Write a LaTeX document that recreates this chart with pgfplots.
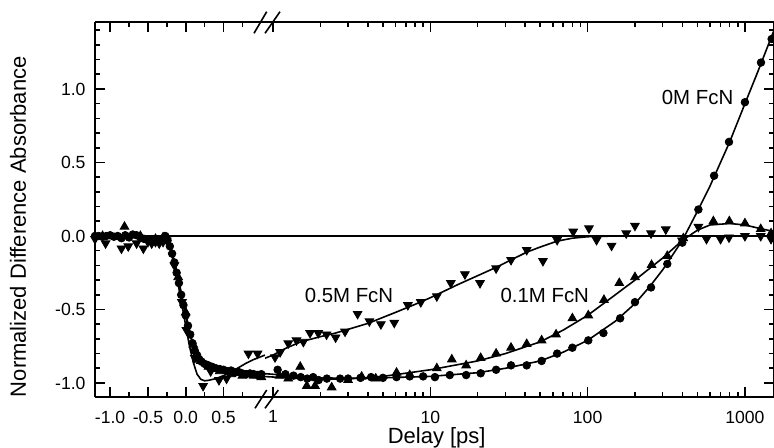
\documentclass[border=0pt]{standalone}
\usepackage{pgfplots}
\pgfplotsset{compat=1.18}
\usepackage{fontspec}
\setmainfont{Liberation Sans}
\begin{document}
\begin{tikzpicture}
\useasboundingbox (-47.5pt,-25.65pt) rectangle (339.5pt,198.35pt);
\pgfplotsset{
  every axis/.append style={
    scale only axis, height=187.5pt,
    ymin=-1.0932, ymax=1.4578,
    tick align=inside,
    major tick length=5pt, minor tick length=2.5pt,
    axis line style={line width=1pt},
    every tick/.style={black, line width=0.8pt},
    tick label style={font=\fontsize{8.8}{10}\selectfont},
    ytick={-1,-0.5,0,0.5,1}, minor ytick={-1.1,-0.9,-0.8,-0.7,-0.6,-0.4,-0.3,-0.2,-0.1,0.1,0.2,0.3,0.4,0.6,0.7,0.8,0.9,1.1,1.2,1.3,1.4},
    xticklabel style={yshift=-3.5pt},
    yticklabel style={xshift=-1.2pt},
  },
  fitline/.style={black, line width=0.8pt, no marks},
  circ/.style={only marks, mark=*, mark size=1.9pt, black},
  tup/.style={only marks, mark=triangle*, mark size=2.5pt, black},
  tdn/.style={only marks, mark=triangle*, mark size=2.5pt, black, mark options={rotate=180}},
}
% ---------- linear part ----------
\begin{axis}[
  at={(0pt,0pt)}, anchor=south west, width=85pt,
  xmin=-1.2, xmax=1.0487,
  axis x line*=box, axis y line*=left,
  xtick={-1,-0.5,0,0.5}, xticklabels={-1.0,-0.5,0.0,0.5},
  minor xtick={-0.75,-0.25,0.25,0.75},
  yticklabels={-1.0,-0.5,0.0,0.5,1.0},
]
\addplot[fitline] coordinates {(-1.2,0) (1.0487,0)};
% 0M fit
\addplot[fitline] coordinates {(-1.2,0)(-0.28,0)(-0.26,-0.01)(-0.22,-0.06)(-0.18,-0.12)(-0.145,-0.2)(-0.1,-0.3)(-0.057,-0.40)(0.0,-0.54)(0.05,-0.66)(0.1,-0.75)(0.15,-0.81)(0.2,-0.845)(0.25,-0.865)(0.3,-0.88)(0.4,-0.895)(0.5,-0.905)(0.6,-0.915)(0.7,-0.925)(0.8,-0.93)(0.9,-0.935)(1.05,-0.94)};
% 0.1M fit
\addplot[fitline] coordinates {(-1.2,0)(-0.28,0)(-0.25,-0.02)(-0.2,-0.08)(-0.15,-0.17)(-0.1,-0.28)(-0.05,-0.41)(0,-0.53)(0.05,-0.645)(0.1,-0.74)(0.15,-0.81)(0.2,-0.85)(0.25,-0.875)(0.3,-0.89)(0.4,-0.91)(0.5,-0.925)(0.6,-0.935)(0.7,-0.945)(0.8,-0.95)(0.9,-0.952)(1.05,-0.955)};
% 0.5M fit
\addplot[fitline] coordinates {(-1.2,0)(-0.28,0)(-0.26,-0.01)(-0.2,-0.1)(-0.15,-0.2)(-0.1,-0.33)(-0.05,-0.47)(0.0,-0.61)(0.05,-0.75)(0.1,-0.86)(0.15,-0.94)(0.2,-0.975)(0.25,-0.985)(0.3,-0.982)(0.4,-0.97)(0.5,-0.95)(0.6,-0.925)(0.7,-0.895)(0.8,-0.865)(0.9,-0.84)(1.05,-0.81)};
% 0M data
\addplot[circ] coordinates {(-1.2,0)(-1.15,0.0)(-1.1,-0.005)(-1.05,0.0)(-1.0,0.005)(-0.95,-0.005)(-0.9,0.0)(-0.85,-0.015)(-0.8,0.005)(-0.75,-0.01)(-0.7,0.01)(-0.65,0.005)(-0.6,-0.01)(-0.55,-0.02)(-0.5,-0.025)(-0.45,-0.03)(-0.4,-0.035)(-0.35,-0.03)(-0.3,-0.02)(-0.27,0.0)(-0.24,-0.03)(-0.21,-0.07)(-0.18,-0.12)(-0.15,-0.18)(-0.12,-0.25)(-0.09,-0.32)(-0.06,-0.40)(-0.03,-0.47)(0.0,-0.54)(0.03,-0.61)(0.06,-0.67)(0.09,-0.73)(0.12,-0.78)(0.15,-0.81)(0.18,-0.84)(0.21,-0.855)(0.25,-0.87)(0.3,-0.88)(0.35,-0.89)(0.4,-0.9)(0.45,-0.905)(0.5,-0.91)(0.55,-0.92)(0.6,-0.915)(0.65,-0.93)(0.7,-0.925)(0.75,-0.935)(0.8,-0.94)(0.85,-0.935)(0.9,-0.94)(0.95,-0.945)(1.0,-0.94)};
% 0.1M data
\addplot[tup] coordinates {(-1.1,0.0)(-0.81,0.063)(-0.6,0.0)(-0.4,-0.02)(-0.3,-0.01)(-0.1,-0.28)(0.0,-0.52)(0.1,-0.74)(0.2,-0.85)(0.3,-0.89)(0.45,-0.92)(0.6,-0.94)(0.75,-0.95)(0.9,-0.95)(1.0,-0.96)};
% 0.5M data
\addplot[tdn] coordinates {(-1.2,-0.02)(-1.06,-0.05)(-0.85,-0.085)(-0.76,-0.07)(-0.65,-0.05)(-0.56,-0.085)(-0.5,-0.04)(-0.45,-0.05)(-0.4,-0.04)(-0.35,-0.05)(-0.3,-0.04)(-0.25,-0.03)(-0.15,-0.2)(-0.05,-0.45)(0.01,-0.64)(0.12,-0.83)(0.23,-1.02)(0.33,-0.92)(0.44,-0.98)(0.54,-0.97)(0.65,-0.92)(0.83,-0.80)(0.95,-0.80)};
\end{axis}
% ---------- log part ----------
\begin{axis}[
  at={(85pt,0pt)}, anchor=south west, width=254.5pt,
  xmode=log, xmin=0.8895, xmax=1531,
  axis x line*=box, axis y line*=right,
  xtick={1,10,100,1000}, xticklabels={1,10,100,1000},
  minor xtick={2,3,4,5,6,7,8,9,20,30,40,50,60,70,80,90,200,300,400,500,600,700,800,900},
  yticklabels={},
]
\addplot[fitline] coordinates {(0.8895,0) (1531,0)};
% 0M fit
\addplot[fitline] coordinates {(0.85,-0.935)(1.5,-0.955)(2,-0.965)(3,-0.968)(5,-0.965)(10,-0.955)(20,-0.93)(30,-0.90)(50,-0.85)(70,-0.79)(100,-0.71)(150,-0.58)(200,-0.46)(250,-0.34)(300,-0.23)(400,-0.03)(500,0.17)(600,0.34)(800,0.64)(1000,0.90)(1200,1.11)(1531,1.40)};
% 0.1M fit
\addplot[fitline] coordinates {(0.85,-0.955)(1.5,-0.97)(2,-0.975)(3,-0.972)(5,-0.955)(10,-0.91)(20,-0.85)(30,-0.80)(50,-0.72)(70,-0.64)(100,-0.54)(150,-0.40)(200,-0.30)(300,-0.15)(400,-0.03)(500,0.04)(600,0.075)(800,0.085)(1000,0.075)(1200,0.055)(1531,0.03)};
% 0.5M fit
\addplot[fitline] coordinates {(0.85,-0.84)(1.0,-0.81)(1.2,-0.765)(1.5,-0.72)(2,-0.685)(2.5,-0.66)(3,-0.635)(4,-0.595)(6,-0.52)(8,-0.465)(10,-0.42)(15,-0.33)(20,-0.27)(26,-0.215)(33,-0.16)(41,-0.11)(50,-0.075)(64,-0.035)(80,-0.015)(100,-0.005)(150,0)(1531,0)};
% 0M data
\addplot[circ] coordinates {(1.07,-0.91)(1.2,-0.94)(1.35,-0.95)(1.5,-0.96)(1.65,-0.97)(1.8,-0.96)(1.95,-0.98)(2.2,-0.97)(2.67,-0.97)(3.0,-0.97)(3.6,-0.965)(4.2,-0.96)(5.0,-0.965)(6.1,-0.96)(7.4,-0.955)(9.0,-0.955)(10.7,-0.96)(13.3,-0.946)(16.9,-0.946)(20.9,-0.934)(26.2,-0.91)(32.6,-0.88)(41,-0.88)(51,-0.85)(64,-0.80)(80,-0.76)(101,-0.71)(126,-0.66)(161,-0.56)(200,-0.45)(253,-0.35)(321,-0.19)(400,-0.045)(506,0.18)(637,0.41)(792,0.64)(1000,0.91)(1265,1.18)(1479,1.34)};
% 0.1M data
\addplot[tup] coordinates {(1.1,-0.95)(1.25,-0.97)(1.49,-0.89)(1.64,-1.02)(1.85,-1.02)(2.36,-1.03)(3.0,-0.98)(3.66,-0.957)(4.5,-0.97)(6.1,-0.93)(7.4,-0.946)(11,-0.90)(13.7,-0.84)(16.9,-0.88)(20.9,-0.83)(26.2,-0.80)(32.6,-0.76)(41,-0.735)(51,-0.71)(63,-0.67)(80,-0.56)(101,-0.54)(127,-0.435)(159,-0.32)(200,-0.28)(255,-0.197)(321,-0.136)(406,-0.016)(630,0.10)(796,0.10)(1000,0.086)(1260,0.047)(1466,0.018)};
% 0.5M data
\addplot[tdn] coordinates {(1.03,-0.825)(1.11,-0.79)(1.25,-0.73)(1.41,-0.71)(1.56,-0.72)(1.72,-0.66)(1.94,-0.66)(2.19,-0.67)(2.5,-0.69)(2.87,-0.65)(3.45,-0.53)(4.1,-0.58)(4.85,-0.60)(5.9,-0.59)(7.2,-0.47)(8.7,-0.45)(11,-0.41)(13.5,-0.32)(16.6,-0.26)(20.7,-0.32)(26.2,-0.22)(32.6,-0.163)(41,-0.095)(52,-0.17)(64,-0.027)(81,0.03)(102,0.052)(114,-0.027)(142,-0.066)(176,0.018)(200,0.07)(253,0.018)(314,0.045)(398,-0.03)(506,0.063)(570,-0.02)(700,-0.02)(792,-0.01)(1000,0.0)(1260,0.0)(1466,-0.02)};
\node[font=\fontsize{10.2}{12}\selectfont] at (axis cs:500,0.942) {0M FcN};
\node[font=\fontsize{10.2}{12}\selectfont] at (axis cs:3.04,-0.407) {0.5M FcN};
\node[font=\fontsize{10.2}{12}\selectfont] at (axis cs:53.4,-0.407) {0.1M FcN};
\end{axis}
% axis break marks
\draw[line width=0.8pt] (79.5pt,181.7pt) -- (85.85pt,192.5pt);
\draw[line width=0.8pt] (85pt,181.7pt) -- (92.5pt,192.5pt);
\draw[line width=0.8pt] (80pt,-5.8pt) -- (85.85pt,3.35pt);
\draw[line width=0.8pt] (85pt,-5.8pt) -- (91.65pt,3.35pt);
% labels
\node[rotate=90, font=\fontsize{11}{13}\selectfont] at (-38.5pt,85pt) {Normalized Difference Absorbance};
\node[font=\fontsize{11}{13}\selectfont] at (170.85pt,-20.4pt) {Delay [ps]};
\end{tikzpicture}
\end{document}
